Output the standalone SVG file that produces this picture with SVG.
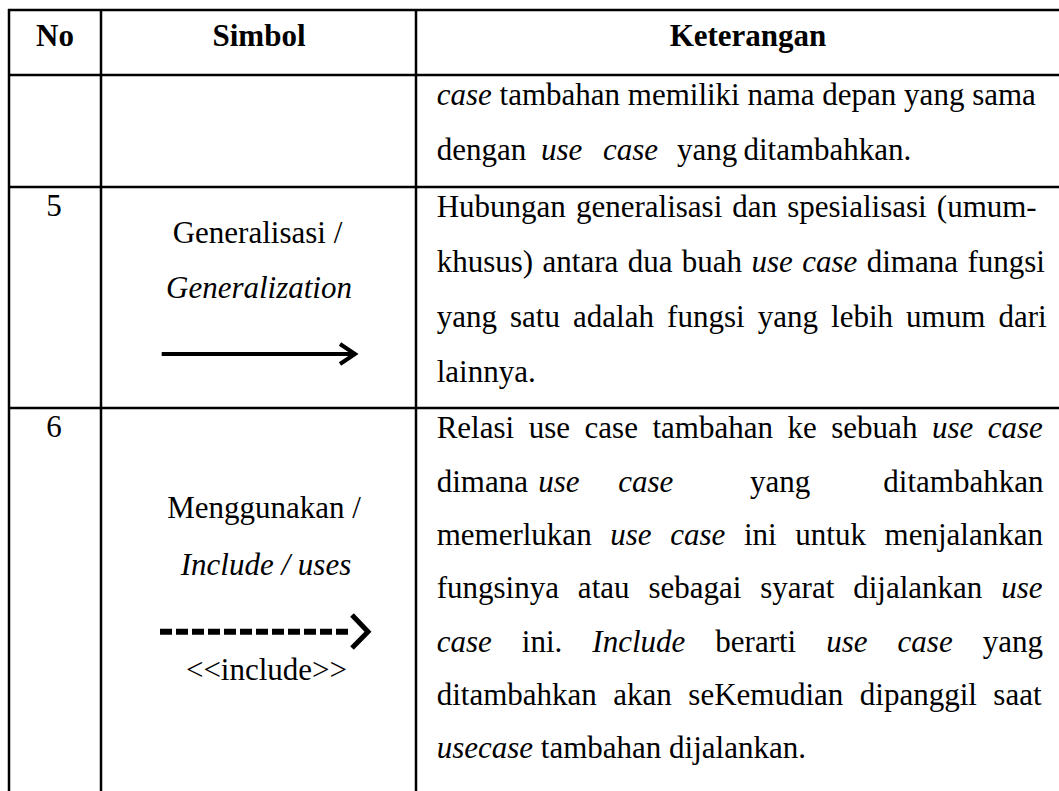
<svg xmlns="http://www.w3.org/2000/svg" width="1059" height="791" viewBox="0 0 1059 791">
<style>
text{font-family:"Liberation Serif","Times New Roman",serif;font-size:31px;fill:#000}
.b{font-weight:bold}
.i{font-style:italic}
.m{text-anchor:middle}
.grid line{stroke:#000;stroke-width:2.5}
.arw{stroke:#000;fill:none}
</style>
<rect width="1059" height="791" fill="#fff"/>
<g id="grid" class="grid">
<line x1="8" y1="10" x2="1059" y2="10"/>
<line x1="8" y1="75" x2="1059" y2="75"/>
<line x1="8" y1="187" x2="1059" y2="187"/>
<line x1="8" y1="408" x2="1059" y2="408"/>
<line x1="9" y1="9" x2="9" y2="791"/>
<line x1="101" y1="9" x2="101" y2="791"/>
<line x1="416" y1="9" x2="416" y2="791"/>
</g>
<g id="header">
<text class="b m" x="55" y="46">No</text>
<text class="b m" x="259" y="46">Simbol</text>
<text class="b m" x="748" y="46">Keterangan</text>
</g>
<g id="row-cont">
<text x="436.7" y="105"><tspan class="i">case</tspan> tambahan memiliki nama depan yang sama</text>
<text y="160"><tspan x="436.7">dengan</tspan><tspan class="i" x="541">use</tspan><tspan class="i" x="603">case</tspan><tspan x="677">yang</tspan><tspan x="743.5">ditambahkan.</tspan></text>
</g>
<g id="row-5">
<text class="m" x="54" y="216">5</text>
<text class="m" x="257.5" y="243.3">Generalisasi /</text>
<text class="m i" x="259" y="298.3">Generalization</text>
<g id="arrow-generalization" class="arw">
<line x1="161.7" y1="354" x2="353" y2="354" stroke-width="4"/>
<polyline points="340,344 355,354 340,364" stroke-width="4"/>
</g>
<text x="436.7" y="216.7" word-spacing="2.35">Hubungan generalisasi dan spesialisasi (umum-</text>
<text x="436.7" y="271.7" word-spacing="1.66">khusus) antara dua buah <tspan class="i">use case</tspan> dimana fungsi</text>
<text x="436.7" y="326.7" word-spacing="5.35">yang satu adalah fungsi yang lebih umum dari</text>
<text x="436.7" y="381.7">lainnya.</text>
</g>
<g id="row-6">
<text class="m" x="54" y="437">6</text>
<text class="m" x="264" y="518.3">Menggunakan /</text>
<text class="m i" x="266" y="575">Include / uses</text>
<g id="arrow-include" class="arw">
<line x1="160" y1="631.7" x2="352" y2="631.7" stroke-width="6" stroke-dasharray="12 4"/>
<polyline points="352,615 368,631.7 352,648" stroke-width="5"/>
</g>
<text class="m" x="266.5" y="680">&lt;&lt;include&gt;&gt;</text>
<text x="436.7" y="438.3" word-spacing="6.79">Relasi use case tambahan ke sebuah <tspan class="i">use case</tspan></text>
<text y="491.7"><tspan x="436.7">dimana</tspan><tspan class="i" x="538.3">use</tspan><tspan class="i" x="618.3">case</tspan><tspan x="750">yang</tspan><tspan x="883.3">ditambahkan</tspan></text>
<text x="436.7" y="545" word-spacing="10.89">memerlukan <tspan class="i">use case</tspan> ini untuk menjalankan</text>
<text x="436.7" y="598.3" word-spacing="11.17">fungsinya atau sebagai syarat dijalankan <tspan class="i">use</tspan></text>
<text x="436.7" y="651.7" word-spacing="22.28"><tspan class="i">case</tspan> ini. <tspan class="i">Include</tspan> berarti <tspan class="i">use case</tspan> yang</text>
<text x="436.7" y="705" word-spacing="8.75">ditambahkan akan seKemudian dipanggil saat</text>
<text x="436.7" y="758.3"><tspan class="i">usecase</tspan> tambahan dijalankan.</text>
</g>
</svg>
